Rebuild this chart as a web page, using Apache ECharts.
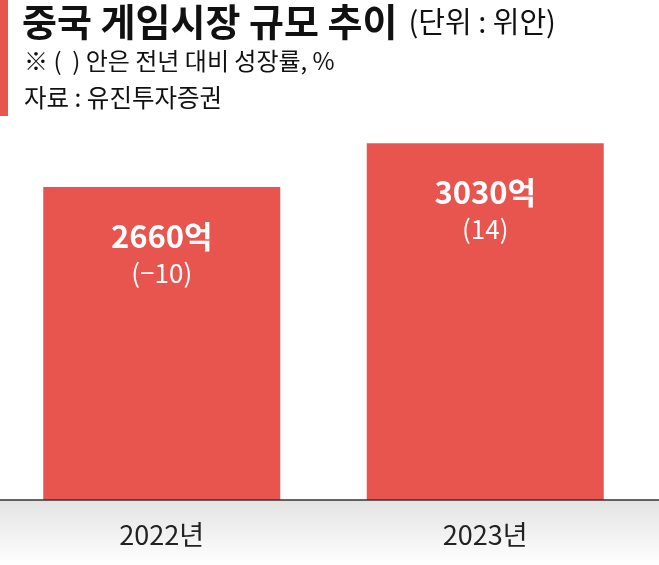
<!DOCTYPE html>
<html><head><meta charset="utf-8">
<script src="https://cdn.jsdelivr.net/npm/echarts@6/dist/echarts.min.js"></script>
<style>html,body{margin:0;padding:0;background:#fff}#c{width:659px;height:565px}</style>
</head><body><div id="c"></div>
<script>
const categories = ['2022년', '2023년'];
const values = [2660, 3030];
const growth = ['(−10)', '(14)'];
const titleMain = '중국 게임시장 규모 추이';
const titleUnit = '(단위 : 위안)';
const note = '※ (  ) 안은 전년 대비 성장률, %';
const source = '자료 : 유진투자증권';

const RED = '#E8554F';
const FONT = '"Noto Sans CJK KR", "Noto Sans", sans-serif';
const chart = echarts.init(document.getElementById('c'));
chart.setOption({
  backgroundColor: '#fff',
  animation: false,
  grid: {left: 0, right: 12, top: 88, bottom: 65},
  xAxis: {
    type: 'category', data: categories,
    axisTick: {show: false},
    axisLine: {show: false},
    axisLabel: {color: '#222', fontSize: 27, fontFamily: FONT, margin: 21}
  },
  yAxis: {type: 'value', min: 0, max: 3500, show: false, splitLine: {show: false}},
  graphic: [
    {type: 'rect', z: -10, shape: {x: 0, y: 500, width: 659, height: 65},
     style: {fill: new echarts.graphic.LinearGradient(0, 0, 0, 1, [{offset: 0, color: '#e3e3e3'}, {offset: 1, color: '#ffffff'}])}},
    {type: 'line', z: 10, shape: {x1: 0, y1: 500, x2: 659, y2: 500}, style: {stroke: '#333', lineWidth: 1.5}},
    {type: 'rect', shape: {x: 0, y: 0, width: 8, height: 116}, style: {fill: RED}},
    {type: 'text', left: 22, top: 3, style: {
      text: '{a|' + titleMain + '}{s| }{b|' + titleUnit + '}',
      rich: {
        a: {fontSize: 38, fontWeight: 'bold', fontFamily: FONT, fill: '#111'},
        s: {fontSize: 12, width: 11},
        b: {fontSize: 29, fontFamily: FONT, fill: '#111'}
      }}},
    {type: 'text', left: 24, top: 49, style: {text: note, fontSize: 24, fontFamily: FONT, fill: '#111'}},
    {type: 'text', left: 24, top: 85, style: {text: source, fontSize: 24.5, fontFamily: FONT, fill: '#111'}}
  ],
  series: [{
    type: 'bar', barWidth: 237,
    data: values.map((v, i) => ({value: v})),
    itemStyle: {color: RED},
    label: {
      show: true, position: 'insideTop', distance: 30,
      formatter: p => '{v|' + p.value + '억}\n{g|' + growth[p.dataIndex] + '}',
      rich: {
        v: {fontSize: 31, fontWeight: 'bold', color: '#fff', fontFamily: FONT, lineHeight: 38},
        g: {fontSize: 26, color: '#fff', fontFamily: FONT, lineHeight: 36}
      }
    }
  }]
});
</script></body></html>
